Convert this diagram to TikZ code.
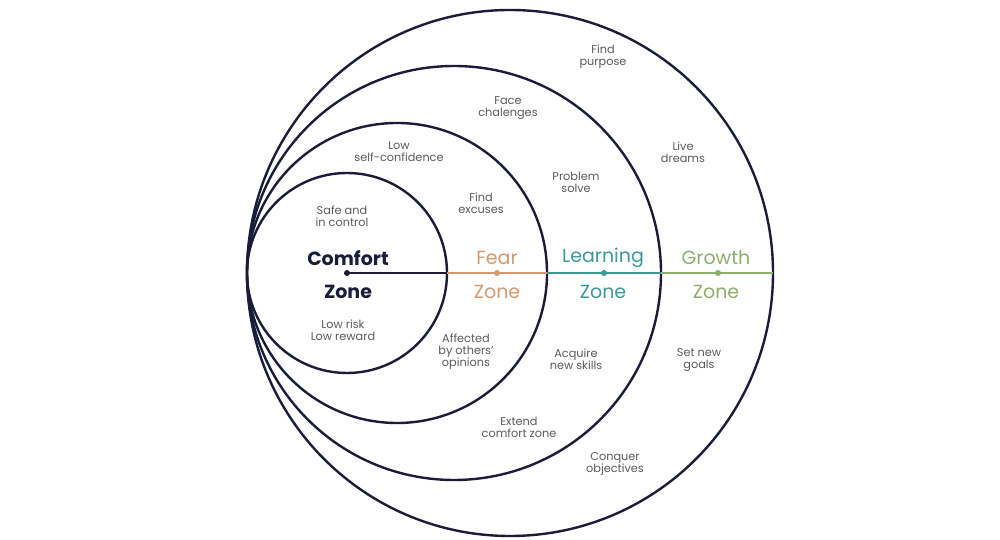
\documentclass[tikz,border=0pt]{standalone}
\usepackage{fontspec}
\setmainfont{Poppins}
\usetikzlibrary{positioning}
\definecolor{ringcol}{HTML}{1C1C3A}
\definecolor{notecol}{HTML}{5A5A5A}
\definecolor{fearcol}{HTML}{D39A72}
\definecolor{learncol}{HTML}{3F9898}
\definecolor{growcol}{HTML}{8EAE6B}
\tikzset{
  ring/.style={draw=ringcol, line width=2.4pt},
  note/.style={text=notecol, align=center, font=\fontsize{11.3}{12}\selectfont, inner sep=0pt},
  zonelbl/.style={align=center, font=\fontsize{19}{20}\selectfont, inner sep=0pt},
  dot/.style={circle, fill=#1, inner sep=0pt, minimum size=6pt},
  seg/.style={draw=#1, line width=2pt}
}
\begin{document}
\begin{tikzpicture}[x=1pt,y=1pt]
\useasboundingbox (0,0) rectangle (1000,540);
% rings
\draw[ring] (510,267) circle[radius=263pt];
\draw[ring] (454,267) circle[radius=207pt];
\draw[ring] (397,267) circle[radius=150pt];
\draw[ring] (347,267) circle[radius=100pt];
% axis
\coordinate (e1) at (447,267);
\coordinate (e2) at (547,267);
\coordinate (e3) at (661,267);
\coordinate (e4) at (773,267);
\node[dot=ringcol] (d1) at (347,267) {};
\node[dot=fearcol] (d2) at (497,267) {};
\node[dot=learncol] (d3) at (604,267) {};
\node[dot=growcol] (d4) at (718,267) {};
\draw[seg=ringcol] (d1.center) -- (e1);
\draw[seg=fearcol] (e1) -- (e2);
\draw[seg=learncol] (e2) -- (e3);
\draw[seg=growcol] (e3) -- (e4);
% zone names
\node[zonelbl, text=ringcol, font=\fontsize{19}{20}\bfseries] (comfort) at (348,282) {Comfort};
\node[zonelbl, text=ringcol, font=\fontsize{19}{20}\bfseries] (comfortz) at (348,248) {Zone};
\node[zonelbl, text=fearcol] (fear) at (497,282) {Fear};
\node[zonelbl, text=fearcol] (fearz) at (497,248) {Zone};
\node[zonelbl, text=learncol] (learn) at (603,282) {Learning};
\node[zonelbl, text=learncol] (learnz) at (603,248) {Zone};
\node[zonelbl, text=growcol] (grow) at (716,282) {Growth};
\node[zonelbl, text=growcol] (growz) at (716,248) {Zone};
% notes
\node[note] (purpose) at (603,483) {Find\\purpose};
\node[note] (challenge) at (508,432) {Face\\chalenges};
\node[note] (dreams) at (683,388) {Live\\dreams};
\node[note] (lowconf) at (399,388) {Low\\self-confidence};
\node[note] (solve) at (576,358) {Problem\\solve};
\node[note] (excuses) at (481,337) {Find\\excuses};
\node[note] (safe) at (342,324) {Safe and\\in control};
\node[note] (risk) at (343,210) {Low risk\\Low reward};
\node[note] (opinions) at (466,188) {Affected\\by others'\\opinions};
\node[note] (skills) at (576,181) {Acquire\\new skills};
\node[note] (goals) at (699,180) {Set new\\goals};
\node[note] (extend) at (519,113) {Extend\\comfort zone};
\node[note] (conquer) at (615,76) {Conquer\\objectives};
\end{tikzpicture}
\end{document}
